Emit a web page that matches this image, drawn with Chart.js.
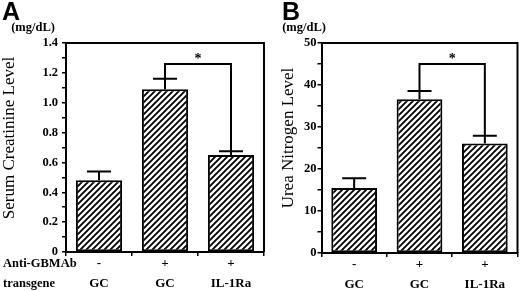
<!DOCTYPE html>
<html><head><meta charset="utf-8">
<script src="https://cdn.jsdelivr.net/npm/chart.js@4"></script>
<style>
html,body{margin:0;padding:0;background:#fff;}
#wrap{position:relative;width:520px;height:291px;overflow:hidden;background:#fff;}
canvas{position:absolute;top:0;}
</style></head><body>
<div id="wrap">
<canvas id="cA" width="268" height="291" style="left:0px"></canvas>
<canvas id="cB" width="252" height="291" style="left:268px"></canvas>
</div>
<script>
// ---- data ----
const antiGbmRow = ['-', '+', '+'];
const transgeneRow = ['GC', 'GC', 'IL-1Ra'];
const rowNames = ['Anti-GBMAb', 'transgene'];

const creatinineValues = [0.48, 1.09, 0.65];
const creatinineErrors = [0.06, 0.07, 0.025];
const creatinineMax = 1.4;
const creatinineStep = 0.1;
const creatinineLabelStep = 0.2;
const creatinineBracket = { from: 1, to: 2, level: 1.26, mark: '*' };

const ureaValues = [15.5, 36.6, 26.1];
const ureaErrors = [2.3, 2.0, 1.8];
const ureaMax = 50;
const ureaStep = 5;
const ureaLabelStep = 10;
const ureaBracket = { from: 1, to: 2, level: 45, mark: '*' };

// ---- styling helpers ----
function hatch() {
  const c = document.createElement('canvas'); c.width = 6; c.height = 6;
  const g = c.getContext('2d');
  g.fillStyle = '#fff'; g.fillRect(0, 0, 6, 6);
  g.strokeStyle = '#000'; g.lineWidth = 1.9; g.lineCap = 'square';
  g.beginPath();
  g.moveTo(-1, 7); g.lineTo(7, -1);
  g.moveTo(-1, 1); g.lineTo(1, -1);
  g.moveTo(5, 7); g.lineTo(7, 5);
  g.stroke();
  return g.createPattern(c, 'repeat');
}
const SERIF = '"Liberation Serif", "Times New Roman", serif';
const TICK_LEN = 4, X_PAD = -2, ROW_H = 20;

function fmt(v, labelStep) {
  const k = Math.round(v / labelStep * 1000) / 1000;
  if (Math.abs(k - Math.round(k)) > 1e-6) return '';
  if (Math.abs(v) < 1e-9) return '0';
  return labelStep < 1 ? v.toFixed(1) : String(Math.round(v));
}

function annotPlugin(cfg) {
  return {
    id: 'annot',
    afterDraw(chart) {
      const ctx = chart.ctx, a = chart.chartArea;
      const ys = chart.scales.y, xs = chart.scales.x;
      const meta = chart.getDatasetMeta(0);
      ctx.save();
      ctx.strokeStyle = '#000'; ctx.fillStyle = '#000';
      // box top + right
      ctx.lineWidth = 2;
      ctx.beginPath();
      ctx.moveTo(a.left, a.top); ctx.lineTo(a.right, a.top); ctx.lineTo(a.right, a.bottom);
      ctx.stroke();
      // error bars (upper only)
      ctx.lineWidth = 2;
      meta.data.forEach((el, i) => {
        const y0 = ys.getPixelForValue(cfg.values[i]);
        const y1 = ys.getPixelForValue(cfg.values[i] + cfg.errors[i]);
        ctx.beginPath();
        ctx.moveTo(el.x, y0); ctx.lineTo(el.x, y1);
        ctx.moveTo(el.x - 12, y1); ctx.lineTo(el.x + 12, y1);
        ctx.stroke();
      });
      // significance bracket
      const b = cfg.bracket;
      const xL = meta.data[b.from].x, xR = meta.data[b.to].x;
      const yb = ys.getPixelForValue(b.level);
      const yL = ys.getPixelForValue(cfg.values[b.from] + cfg.errors[b.from]);
      const yR = ys.getPixelForValue(cfg.values[b.to] + cfg.errors[b.to]);
      ctx.beginPath();
      ctx.moveTo(xL, yL); ctx.lineTo(xL, yb); ctx.lineTo(xR, yb); ctx.lineTo(xR, yR);
      ctx.stroke();
      ctx.font = 'bold 14px ' + SERIF;
      ctx.textAlign = 'center'; ctx.textBaseline = 'middle';
      ctx.fillText(b.mark, (xL + xR) / 2, yb - 5);
      // unit label
      ctx.font = 'bold 12.5px ' + SERIF;
      ctx.textAlign = 'center'; ctx.textBaseline = 'middle';
      ctx.fillText('(mg/dL)', cfg.unitX, 28);
      // panel letter
      ctx.font = 'bold 25px "Liberation Sans", Arial, sans-serif';
      ctx.textAlign = 'left'; ctx.textBaseline = 'top';
      ctx.fillText(cfg.letter, cfg.letterX, 1);
      // y axis title
      ctx.save();
      ctx.translate(cfg.titleX, 138);
      ctx.rotate(-Math.PI / 2);
      ctx.font = '17px ' + SERIF;
      ctx.textAlign = 'center'; ctx.textBaseline = 'middle';
      ctx.fillText(cfg.title, 0, 0);
      ctx.restore();
      // row names
      if (cfg.showRowNames) {
        ctx.font = 'bold 12.5px ' + SERIF;
        ctx.textAlign = 'left'; ctx.textBaseline = 'middle';
        const y0 = xs.top + TICK_LEN + X_PAD + ROW_H / 2;
        rowNames.forEach((n, i) => ctx.fillText(n, 3, y0 + i * ROW_H));
      }
      ctx.restore();
    }
  };
}

function makeChart(id, cfg) {
  return new Chart(document.getElementById(id), {
    type: 'bar',
    data: {
      labels: antiGbmRow.map((s, i) => [s, transgeneRow[i]]),
      datasets: [{
        data: cfg.values,
        backgroundColor: hatch(),
        borderColor: '#000',
        borderWidth: 2,
        borderSkipped: false,
        categoryPercentage: 1,
        barPercentage: 0.7
      }]
    },
    options: {
      responsive: false, animation: false, devicePixelRatio: 1,
      layout: { padding: { left: 0, right: cfg.padRight, top: 43, bottom: 0 } },
      plugins: { legend: { display: false }, tooltip: { enabled: false } },
      scales: {
        x: {
          offset: true,
          grid: { drawOnChartArea: false, color: '#000', lineWidth: 1.5, tickLength: TICK_LEN, offset: true },
          border: { color: '#000', width: 2 },
          ticks: {
            color: '#000', padding: X_PAD, maxRotation: 0, autoSkip: false,
            font: { family: SERIF, weight: 'bold', size: 13, lineHeight: ROW_H + 'px' }
          },
          afterFit: s => { s.height = cfg.xHeight; }
        },
        y: {
          min: 0, max: cfg.max,
          grid: { drawOnChartArea: false, color: '#000', lineWidth: 1.5, tickLength: TICK_LEN },
          border: { color: '#000', width: 2 },
          ticks: {
            stepSize: cfg.step, autoSkip: false, padding: cfg.tickPad, color: '#000',
            font: { family: SERIF, weight: 'bold', size: 12.5 },
            callback: v => fmt(v, cfg.labelStep)
          },
          afterFit: s => { s.width = cfg.yWidth; }
        }
      }
    },
    plugins: [annotPlugin(cfg)]
  });
}

makeChart('cA', {
  values: creatinineValues, errors: creatinineErrors, max: creatinineMax,
  step: creatinineStep, labelStep: creatinineLabelStep, bracket: creatinineBracket,
  yWidth: 66, padRight: 4, xHeight: 39, tickPad: 4,
  unitX: 33, letter: 'A', letterX: 2, titleX: 9.5, title: 'Serum Creatinine Level',
  showRowNames: true
});
makeChart('cB', {
  values: ureaValues, errors: ureaErrors, max: ureaMax,
  step: ureaStep, labelStep: ureaLabelStep, bracket: ureaBracket,
  yWidth: 53.5, padRight: 2.5, xHeight: 38, tickPad: 1,
  unitX: 36, letter: 'B', letterX: 14, titleX: 21, title: 'Urea Nitrogen Level',
  showRowNames: false
});
</script>
</body></html>
